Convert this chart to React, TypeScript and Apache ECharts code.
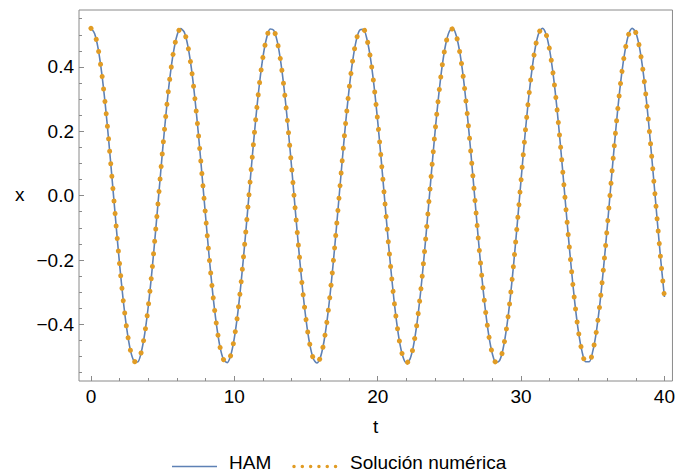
import React, { useEffect, useRef } from "react";
import * as echarts from "echarts";

// time samples (t)
const tValues = [
  0, 0.25, 0.5, 0.75, 1, 1.25, 1.5, 1.75, 2, 2.25, 2.5, 2.75, 3, 3.25, 3.5, 3.75,
  4, 4.25, 4.5, 4.75, 5, 5.25, 5.5, 5.75, 6, 6.25, 6.5, 6.75, 7, 7.25, 7.5, 7.75,
  8, 8.25, 8.5, 8.75, 9, 9.25, 9.5, 9.75, 10, 10.25, 10.5, 10.75, 11, 11.25, 11.5, 11.75,
  12, 12.25, 12.5, 12.75, 13, 13.25, 13.5, 13.75, 14, 14.25, 14.5, 14.75, 15, 15.25, 15.5, 15.75,
  16, 16.25, 16.5, 16.75, 17, 17.25, 17.5, 17.75, 18, 18.25, 18.5, 18.75, 19, 19.25, 19.5, 19.75,
  20, 20.25, 20.5, 20.75, 21, 21.25, 21.5, 21.75, 22, 22.25, 22.5, 22.75, 23, 23.25, 23.5, 23.75,
  24, 24.25, 24.5, 24.75, 25, 25.25, 25.5, 25.75, 26, 26.25, 26.5, 26.75, 27, 27.25, 27.5, 27.75,
  28, 28.25, 28.5, 28.75, 29, 29.25, 29.5, 29.75, 30, 30.25, 30.5, 30.75, 31, 31.25, 31.5, 31.75,
  32, 32.25, 32.5, 32.75, 33, 33.25, 33.5, 33.75, 34, 34.25, 34.5, 34.75, 35, 35.25, 35.5, 35.75,
  36, 36.25, 36.5, 36.75, 37, 37.25, 37.5, 37.75, 38, 38.25, 38.5, 38.75, 39, 39.25, 39.5, 39.75,
  40,
];

// HAM solution x(t)
const hamX = [
  0.52, 0.504, 0.457, 0.381, 0.282, 0.165, 0.038, -0.091, -0.215, -0.325, -0.415, -0.48, -0.514, -0.517, -0.488, -0.429,
  -0.343, -0.236, -0.114, 0.015, 0.143, 0.262, 0.365, 0.445, 0.498, 0.519, 0.509, 0.467, 0.397, 0.302, 0.188, 0.062,
  -0.067, -0.193, -0.306, -0.4, -0.47, -0.51, -0.519, -0.496, -0.442, -0.361, -0.257, -0.137, -0.009, 0.12, 0.241, 0.347,
  0.432, 0.49, 0.518, 0.514, 0.478, 0.412, 0.321, 0.21, 0.086, -0.044, -0.17, -0.287, -0.385, -0.459, -0.505, -0.52,
  -0.503, -0.454, -0.377, -0.277, -0.16, -0.033, 0.096, 0.22, 0.329, 0.418, 0.482, 0.515, 0.517, 0.486, 0.426, 0.339,
  0.231, 0.109, -0.02, -0.148, -0.266, -0.368, -0.448, -0.499, -0.52, -0.508, -0.465, -0.393, -0.297, -0.182, -0.057, 0.073,
  0.198, 0.31, 0.404, 0.472, 0.511, 0.519, 0.494, 0.439, 0.357, 0.252, 0.132, 0.004, -0.125, -0.246, -0.351, -0.435,
  -0.492, -0.518, -0.513, -0.475, -0.408, -0.316, -0.204, -0.08, 0.049, 0.176, 0.291, 0.388, 0.462, 0.507, 0.52, 0.501,
  0.451, 0.373, 0.273, 0.155, 0.027, -0.102, -0.224, -0.333, -0.422, -0.484, -0.516, -0.516, -0.484, -0.423, -0.335, -0.226,
  -0.104, 0.026, 0.153, 0.271, 0.372, 0.45, 0.501, 0.52, 0.507, 0.463, 0.39, 0.293, 0.177, 0.051, -0.078, -0.203,
  -0.315,
];

// numerical solution x(t) (coincides with HAM in the picture)
const numericX = [
  0.52, 0.504, 0.457, 0.381, 0.282, 0.165, 0.038, -0.091, -0.215, -0.325, -0.415, -0.48, -0.514, -0.517, -0.488, -0.429,
  -0.343, -0.236, -0.114, 0.015, 0.143, 0.262, 0.365, 0.445, 0.498, 0.519, 0.509, 0.467, 0.397, 0.302, 0.188, 0.062,
  -0.067, -0.193, -0.306, -0.4, -0.47, -0.51, -0.519, -0.496, -0.442, -0.361, -0.257, -0.137, -0.009, 0.12, 0.241, 0.347,
  0.432, 0.49, 0.518, 0.514, 0.478, 0.412, 0.321, 0.21, 0.086, -0.044, -0.17, -0.287, -0.385, -0.459, -0.505, -0.52,
  -0.503, -0.454, -0.377, -0.277, -0.16, -0.033, 0.096, 0.22, 0.329, 0.418, 0.482, 0.515, 0.517, 0.486, 0.426, 0.339,
  0.231, 0.109, -0.02, -0.148, -0.266, -0.368, -0.448, -0.499, -0.52, -0.508, -0.465, -0.393, -0.297, -0.182, -0.057, 0.073,
  0.198, 0.31, 0.404, 0.472, 0.511, 0.519, 0.494, 0.439, 0.357, 0.252, 0.132, 0.004, -0.125, -0.246, -0.351, -0.435,
  -0.492, -0.518, -0.513, -0.475, -0.408, -0.316, -0.204, -0.08, 0.049, 0.176, 0.291, 0.388, 0.462, 0.507, 0.52, 0.501,
  0.451, 0.373, 0.273, 0.155, 0.027, -0.102, -0.224, -0.333, -0.422, -0.484, -0.516, -0.516, -0.484, -0.423, -0.335, -0.226,
  -0.104, 0.026, 0.153, 0.271, 0.372, 0.45, 0.501, 0.52, 0.507, 0.463, 0.39, 0.293, 0.177, 0.051, -0.078, -0.203,
  -0.315,
];

const seriesNames = ["HAM", "Solución numérica"];
const xMajorTicks = [0, 10, 20, 30, 40];
const xMinorTicks = [2, 4, 6, 8, 12, 14, 16, 18, 22, 24, 26, 28, 32, 34, 36, 38];
const yMajorTicks = [-0.4, -0.2, 0, 0.2, 0.4];
const yMinorTicks = [
  -0.55, -0.5, -0.45, -0.35, -0.3, -0.25, -0.15, -0.1, -0.05,
  0.05, 0.1, 0.15, 0.25, 0.3, 0.35, 0.45, 0.5, 0.55,
];
const xAxisTitle = "t";
const yAxisTitle = "x";

const FONT = "'Liberation Sans', Arial, sans-serif";
const FRAME = "#8a8a8a";
const BLUE = "#5E81B5";
const ORANGE = "#E19C24";
const X_MIN = -0.835;
const X_MAX = 40.56;
const Y_MIN = -0.576;
const Y_MAX = 0.577;

const fmtY = (v: number) => {
  const s = Math.abs(v).toFixed(1);
  return v < -1e-9 ? "\u2212" + s : s;
};

export default function App() {
  const ref = useRef<HTMLDivElement>(null);
  useEffect(() => {
    if (!ref.current) return;
    const chart = echarts.init(ref.current, null, { renderer: "svg" });
    const hamData = tValues.map((t, i) => [t, hamX[i]]);
    const numData = tValues.map((t, i) => [t, numericX[i]]);
    const labelStyle = { color: "#000", fontFamily: FONT, fontSize: 19 };
    const hiddenLine = { show: false, onZero: false };
    chart.setOption({
      animation: false,
      backgroundColor: "#fff",
      grid: {
        left: 79,
        top: 10,
        right: 4,
        bottom: 94,
        show: true,
        borderColor: FRAME,
        borderWidth: 1,
        backgroundColor: "transparent",
      },
      xAxis: [
        {
          type: "value",
          min: X_MIN,
          max: X_MAX,
          position: "bottom",
          axisLine: hiddenLine,
          splitLine: { show: false },
          axisTick: {
            show: true,
            inside: true,
            length: 5,
            customValues: xMajorTicks,
            lineStyle: { color: FRAME, width: 1 },
          },
          axisLabel: {
            show: true,
            customValues: xMajorTicks,
            margin: 6,
            ...labelStyle,
            formatter: (v: number) => String(v),
          },
        },
        {
          type: "value",
          min: X_MIN,
          max: X_MAX,
          position: "bottom",
          axisLine: hiddenLine,
          splitLine: { show: false },
          axisLabel: { show: false },
          axisTick: {
            show: true,
            inside: true,
            length: 3,
            customValues: xMinorTicks,
            lineStyle: { color: FRAME, width: 1 },
          },
        },
      ],
      yAxis: [
        {
          type: "value",
          min: Y_MIN,
          max: Y_MAX,
          position: "left",
          axisLine: hiddenLine,
          splitLine: { show: false },
          axisTick: {
            show: true,
            inside: true,
            length: 5,
            customValues: yMajorTicks,
            lineStyle: { color: FRAME, width: 1 },
          },
          axisLabel: {
            show: true,
            customValues: yMajorTicks,
            margin: 5,
            ...labelStyle,
            formatter: (v: number) => fmtY(v),
          },
        },
        {
          type: "value",
          min: Y_MIN,
          max: Y_MAX,
          position: "left",
          axisLine: hiddenLine,
          splitLine: { show: false },
          axisLabel: { show: false },
          axisTick: {
            show: true,
            inside: true,
            length: 3,
            customValues: yMinorTicks,
            lineStyle: { color: FRAME, width: 1 },
          },
        },
      ],
      series: [
        {
          name: seriesNames[0],
          type: "line",
          xAxisIndex: 0,
          yAxisIndex: 0,
          data: hamData,
          showSymbol: false,
          symbol: "none",
          smooth: 0.3,
          lineStyle: { color: BLUE, width: 1.6 },
          z: 2,
        },
        {
          name: seriesNames[1],
          type: "line",
          xAxisIndex: 0,
          yAxisIndex: 0,
          data: numData,
          showSymbol: false,
          symbol: "none",
          smooth: 0.3,
          lineStyle: { color: ORANGE, width: 5, type: [0.01, 12.5], cap: "round" },
          z: 3,
        },
      ],
      graphic: [
        {
          type: "text",
          left: 15,
          top: 185,
          style: { text: yAxisTitle, font: `19px ${FONT}`, fill: "#000" },
        },
        {
          type: "text",
          left: 373,
          top: 417,
          style: { text: xAxisTitle, font: `19px ${FONT}`, fill: "#000" },
        },
        {
          type: "line",
          shape: { x1: 172, y1: 466.5, x2: 217, y2: 466.5 },
          style: { stroke: BLUE, lineWidth: 1.6 },
        },
        {
          type: "text",
          left: 229,
          top: 453,
          style: { text: seriesNames[0], font: `19px ${FONT}`, fill: "#000" },
        },
        {
          type: "line",
          shape: { x1: 294, y1: 466.5, x2: 336, y2: 466.5 },
          style: { stroke: ORANGE, lineWidth: 3.5, lineDash: [0.01, 8.3], lineCap: "round" },
        },
        {
          type: "text",
          left: 350,
          top: 453,
          style: { text: seriesNames[1], font: `19px ${FONT}`, fill: "#000" },
        },
      ],
    });
    return () => chart.dispose();
  }, []);
  return (
    <div
      ref={ref}
      style={{ position: "fixed", left: 0, top: 0, width: 678, height: 475, background: "#fff" }}
    />
  );
}
